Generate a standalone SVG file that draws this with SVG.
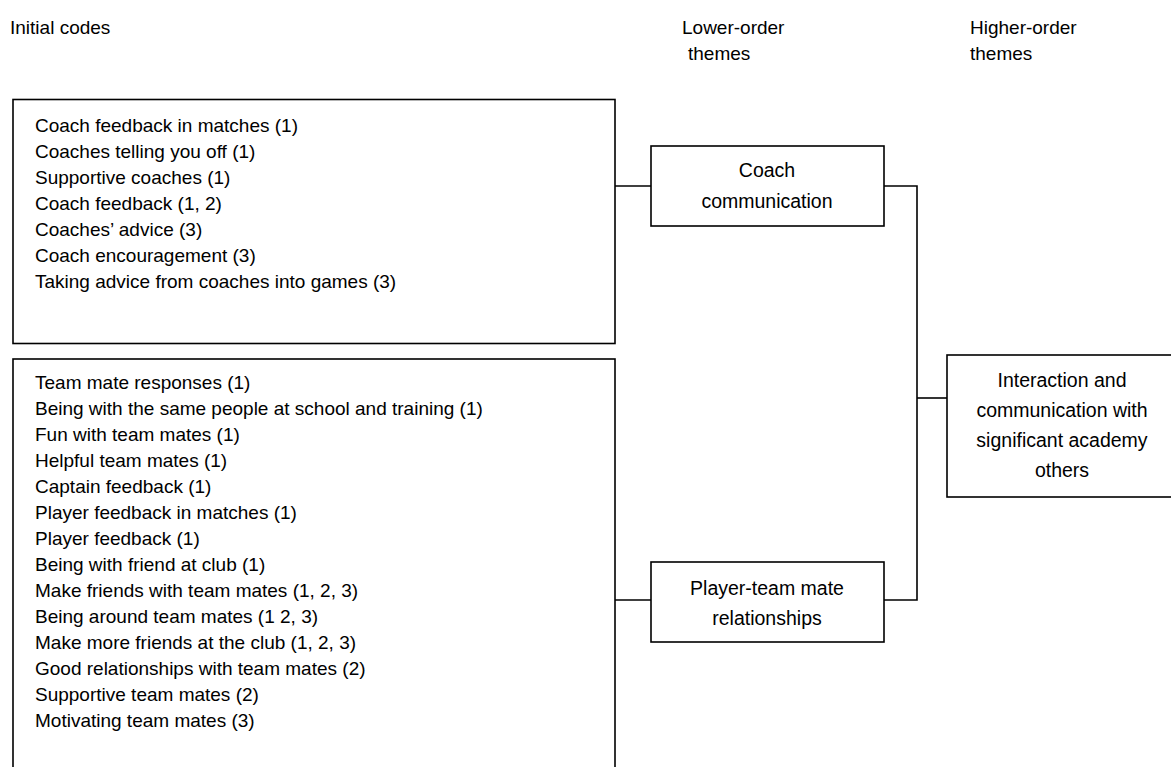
<svg xmlns="http://www.w3.org/2000/svg" width="1171" height="767" viewBox="0 0 1171 767">
<style>
text{font-family:"Liberation Sans",Arial,sans-serif;fill:#000}
.code{font-size:19px}
.hdr{font-size:19px}
.th{font-size:19.5px;text-anchor:middle}
.box{fill:#fff;stroke:#000;stroke-width:1.6}
.conn{fill:none;stroke:#000;stroke-width:1.6}
</style>
<rect width="1171" height="767" fill="#fff"/>
<g id="headers">
<text class="hdr" x="10" y="34">Initial codes</text>
<text class="hdr" x="682" y="34">Lower-order</text>
<text class="hdr" x="688" y="60">themes</text>
<text class="hdr" x="970" y="34">Higher-order</text>
<text class="hdr" x="970" y="60">themes</text>
</g>
<g id="connectors">
<path class="conn" d="M615 186 H651"/>
<path class="conn" d="M884 186 H917 V600 H884"/>
<path class="conn" d="M615 600 H651"/>
<path class="conn" d="M917 398 H947"/>
</g>
<g id="coach-codes">
<rect class="box" x="13" y="99.5" width="602" height="244"/>
<text class="code" x="35" y="132">Coach feedback in matches (1)</text>
<text class="code" x="35" y="158">Coaches telling you off (1)</text>
<text class="code" x="35" y="184">Supportive coaches (1)</text>
<text class="code" x="35" y="210">Coach feedback (1, 2)</text>
<text class="code" x="35" y="236">Coaches’ advice (3)</text>
<text class="code" x="35" y="262">Coach encouragement (3)</text>
<text class="code" x="35" y="288">Taking advice from coaches into games (3)</text>
</g>
<g id="player-codes">
<rect class="box" x="13" y="359" width="602" height="430"/>
<text class="code" x="35" y="389">Team mate responses (1)</text>
<text class="code" x="35" y="415">Being with the same people at school and training (1)</text>
<text class="code" x="35" y="441">Fun with team mates (1)</text>
<text class="code" x="35" y="467">Helpful team mates (1)</text>
<text class="code" x="35" y="493">Captain feedback (1)</text>
<text class="code" x="35" y="519">Player feedback in matches (1)</text>
<text class="code" x="35" y="545">Player feedback (1)</text>
<text class="code" x="35" y="571">Being with friend at club (1)</text>
<text class="code" x="35" y="597">Make friends with team mates (1, 2, 3)</text>
<text class="code" x="35" y="623">Being around team mates (1 2, 3)</text>
<text class="code" x="35" y="649">Make more friends at the club (1, 2, 3)</text>
<text class="code" x="35" y="675">Good relationships with team mates (2)</text>
<text class="code" x="35" y="701">Supportive team mates (2)</text>
<text class="code" x="35" y="727">Motivating team mates (3)</text>
</g>
<g id="coach-communication">
<rect class="box" x="651" y="146" width="233" height="80"/>
<text class="th" x="767" y="177">Coach</text>
<text class="th" x="767" y="208">communication</text>
</g>
<g id="player-team-mate">
<rect class="box" x="651" y="562" width="233" height="80"/>
<text class="th" x="767" y="595">Player-team mate</text>
<text class="th" x="767" y="625">relationships</text>
</g>
<g id="interaction">
<rect class="box" x="947" y="355" width="235" height="142"/>
<text class="th" x="1062" y="387">Interaction and</text>
<text class="th" x="1062" y="417">communication with</text>
<text class="th" x="1062" y="447">significant academy</text>
<text class="th" x="1062" y="477">others</text>
</g>
</svg>
